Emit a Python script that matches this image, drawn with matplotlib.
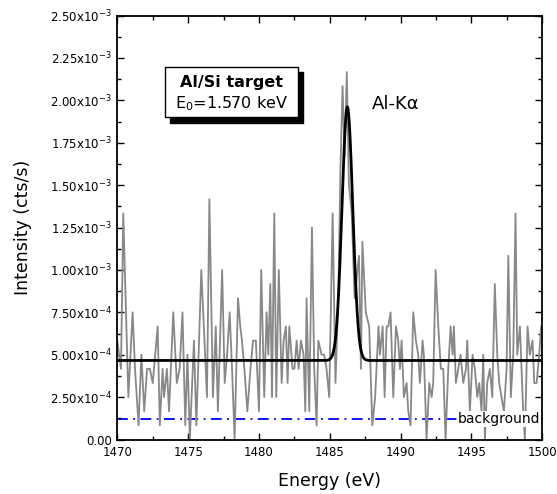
import numpy as np
import matplotlib
matplotlib.use('Agg')
from matplotlib import pyplot as plt
from matplotlib.patches import Rectangle
from matplotlib.ticker import MultipleLocator, FuncFormatter

# measured spectrum: energy (eV) and counts, 1 count = 1/12000 cts/s
energy = [1470.0, 1470.26, 1470.42, 1470.78, 1471.08, 1471.25, 1471.5, 1471.7,
          1471.9, 1472.1, 1472.3, 1472.5, 1472.85, 1473.0, 1473.2, 1473.3,
          1473.5, 1473.65, 1473.95, 1474.2, 1474.4, 1474.6, 1474.8, 1474.95,
          1475.12, 1475.41, 1475.58, 1475.93, 1476.15, 1476.33, 1476.5, 1476.75,
          1476.95, 1477.1, 1477.4, 1477.58, 1477.75, 1477.93, 1478.1, 1478.28,
          1478.52, 1478.68, 1478.8, 1478.97, 1479.18, 1479.4, 1479.58, 1479.78,
          1480.0, 1480.16, 1480.37, 1480.54, 1480.66, 1480.8, 1480.92, 1481.08,
          1481.22, 1481.4, 1481.6, 1481.74, 1481.9, 1482.02, 1482.14, 1482.37,
          1482.5, 1482.66, 1482.8, 1482.96, 1483.15, 1483.27, 1483.36, 1483.55,
          1483.74, 1483.9, 1484.07, 1484.19, 1484.42, 1484.6, 1484.77, 1484.96,
          1485.2, 1485.4, 1485.6, 1485.75, 1485.9, 1486.05, 1486.2, 1486.35,
          1486.55, 1486.75, 1487.06, 1487.2, 1487.3, 1487.54, 1487.78, 1488.0,
          1488.2, 1488.44, 1488.54, 1488.73, 1488.87, 1489.01, 1489.13, 1489.29,
          1489.48, 1489.67, 1489.83, 1489.95, 1490.07, 1490.23, 1490.42, 1490.54,
          1490.7, 1490.89, 1491.08, 1491.24, 1491.36, 1491.55, 1491.64, 1491.83,
          1492.02, 1492.19, 1492.3, 1492.47, 1492.66, 1492.84, 1493.01, 1493.17,
          1493.36, 1493.53, 1493.67, 1493.76, 1493.9, 1494.07, 1494.23, 1494.42,
          1494.61, 1494.7, 1494.89, 1495.08, 1495.24, 1495.41, 1495.55, 1495.71,
          1495.83, 1495.95, 1496.11, 1496.3, 1496.47, 1496.65, 1496.82, 1496.96,
          1497.12, 1497.29, 1497.48, 1497.6, 1497.78, 1497.95, 1498.11, 1498.23,
          1498.42, 1498.65, 1498.77, 1498.96, 1499.12, 1499.31, 1499.43, 1499.6,
          1499.78, 1499.92]
counts = [7, 5, 16, 3, 9, 5, 1, 6,
          2, 5, 5, 4, 8, 1, 5, 3,
          5, 2, 9, 4, 5, 9, 1, 6,
          0, 7, 1, 12, 7, 3, 17, 3,
          8, 2, 12, 4, 6, 9, 5, 0,
          10, 8, 7, 5, 2, 5, 7, 7,
          2, 12, 3, 9, 6, 11, 3, 16,
          3, 12, 4, 7, 8, 4, 8, 5,
          5, 7, 5, 7, 6, 2, 10, 2,
          15, 5, 1, 7, 6, 6, 5, 3,
          16, 4, 10, 19, 25, 20, 26, 18,
          16, 10, 13, 5, 14, 9, 8, 1,
          3, 8, 6, 8, 3, 8, 8, 9,
          3, 8, 7, 5, 7, 3, 4, 2,
          1, 9, 7, 6, 4, 7, 6, 0,
          4, 3, 4, 12, 8, 5, 5, 0,
          5, 8, 6, 8, 4, 5, 6, 4,
          5, 7, 2, 6, 5, 3, 4, 2,
          6, 0, 4, 5, 3, 11, 6, 4,
          3, 2, 5, 13, 3, 6, 16, 6,
          8, 2, 0, 8, 6, 7, 4, 4,
          6, 8]
count_unit = 1 / 12000

# gaussian fit parameters
fit_center = 1486.24
fit_sigma = 0.38
fit_amp = 1.495e-3
fit_base = 4.66e-4
background = 1.2e-4

intensity = np.array(counts) * count_unit
e_fit = np.linspace(1470, 1500, 1500)
i_fit = fit_base + fit_amp * np.exp(-(e_fit - fit_center) ** 2 / (2 * fit_sigma ** 2))

fig = plt.figure(figsize=(5.57, 4.94), dpi=100)
ax = fig.add_axes([0.2106, 0.1103, 0.763, 0.8583])

ax.plot(energy, intensity, color='#888888', lw=1.3, zorder=2)
ax.plot(e_fit, i_fit, color='black', lw=2.0, zorder=3)
ax.axhline(background, color='#0000ff', lw=1.3, ls=(0, (6, 3, 1, 3)), zorder=1)

ax.set_xlim(1470, 1500)
ax.set_ylim(0, 2.5e-3)
ax.xaxis.set_major_locator(MultipleLocator(5))
ax.xaxis.set_minor_locator(MultipleLocator(2.5))
ax.yaxis.set_major_locator(MultipleLocator(2.5e-4))
ax.yaxis.set_minor_locator(MultipleLocator(1.25e-4))


def sci_fmt(v, pos):
    if abs(v) < 1e-12:
        return '0.00'
    exp = int(np.floor(np.log10(abs(v)) + 1e-9))
    mant = v / 10 ** exp
    return '%.2fx10$^{%d}$' % (mant, exp)


ax.yaxis.set_major_formatter(FuncFormatter(sci_fmt))
ax.tick_params(which='both', direction='in', top=True, right=True, width=1.0)
ax.tick_params(which='major', length=5)
ax.tick_params(which='minor', length=3)
ax.tick_params(axis='x', labelsize=8.5, pad=5)
ax.tick_params(axis='y', labelsize=8.5, pad=4)
for s in ax.spines.values():
    s.set_linewidth(1.3)

ax.set_xlabel('Energy (eV)', fontsize=12.5, labelpad=9)
ax.set_ylabel('Intensity (cts/s)', fontsize=12.5, labelpad=13)

# label box with shadow
bx0, bx1 = 1473.37, 1482.75
by0, by1 = 1.899e-3, 2.194e-3
dx, dy = 0.35, 3.0e-5
ax.add_patch(Rectangle((bx0 + dx, by0 - dy), bx1 - bx0, by1 - by0,
                       facecolor='black', edgecolor='black', zorder=4))
ax.add_patch(Rectangle((bx0, by0), bx1 - bx0, by1 - by0,
                       facecolor='white', edgecolor='black', lw=1.0, zorder=5))
ax.text((bx0 + bx1) / 2, 2.105e-3, 'Al/Si target', ha='center', va='center',
        fontsize=11.5, fontweight='bold', zorder=6)
ax.text((bx0 + bx1) / 2, 1.98e-3, 'E$_0$=1.570 keV', ha='center', va='center',
        fontsize=11.5, zorder=6)

ax.text(1487.95, 1.98e-3, 'Al-K\u03b1', ha='left', va='center', fontsize=13)
ax.text(1499.85, 1.2e-4, 'background', ha='right', va='center', fontsize=10,
        zorder=4, bbox=dict(facecolor='white', edgecolor='none', pad=0.5))

fig.savefig('out.png', dpi=100)
